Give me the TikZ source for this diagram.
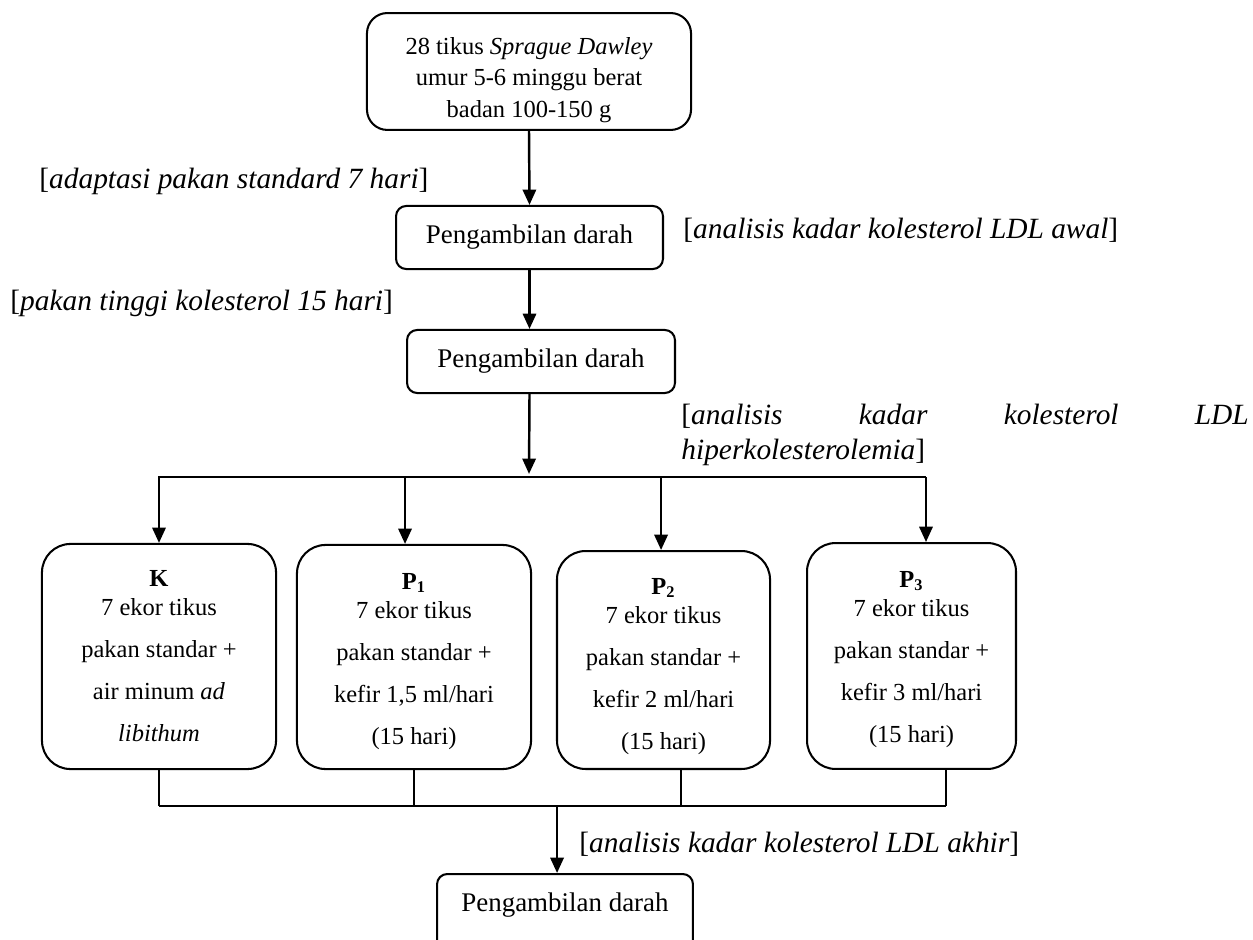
\documentclass[tikz,border=0pt]{standalone}
\usepackage{fontspec}
\setmainfont{Liberation Serif}
\usetikzlibrary{arrows.meta}
\tikzset{
  boxround/.style={draw, line width=1pt, rounded corners=10pt, align=center, inner sep=0pt},
  boxsmall/.style={draw, line width=1pt, rounded corners=5pt, align=center, inner sep=0pt,
     font=\fontsize{13.2}{15}\selectfont},
  groupbox/.style={draw, line width=1pt, rounded corners=14pt, align=center, inner sep=0pt,
     font=\fontsize{12}{20.6}\selectfont},
  lbl/.style={anchor=west, inner sep=0pt, align=left},
  biglbl/.style={lbl, font=\fontsize{14.4}{17.2}\selectfont},
  arr/.style={line width=1.2pt, -{Triangle[width=6.5pt,length=7.5pt]}},
  thinline/.style={line width=0.8pt},
  hline/.style={line width=1pt}
}
\begin{document}
\begin{tikzpicture}[x=0.49pt, y=-0.49pt, font=\fontsize{12}{14.5}\selectfont]
\useasboundingbox (0,0) rectangle (1253,940);
\fill[white] (0,0) rectangle (1253,940);
\clip (0,0) rectangle (1253,940);

% main column
\node[boxround, minimum width=158.8pt, minimum height=57.3pt, font=\fontsize{12}{15.4}\selectfont]
  (top) at (529,71.5) {\rule{0pt}{16.5pt}28 tikus \textit{Sprague Dawley}\\umur 5-6 minggu berat\\badan 100-150 g};
\node[boxsmall, minimum width=130.8pt, minimum height=30.9pt] (b2) at (529.5,237.5) {Pengambilan darah};
\node[boxsmall, minimum width=131.3pt, minimum height=30.9pt] (b3) at (541,361.5) {Pengambilan darah};

% labels
\node[biglbl] (l1) at (39,181) {[\textit{adaptasi pakan standard 7 hari}]};
\node[biglbl] (l2) at (683,230) {[\textit{analisis kadar kolesterol LDL awal}]};
\node[biglbl] (l3) at (10,303) {[\textit{pakan tinggi kolesterol 15 hari}]};
\node[biglbl] (l4) at (681,435)
  {\makebox[278pt][l]{[\textit{analisis}\hfill\textit{kadar}\hfill\textit{kolesterol}\hfill\textit{LDL}}\\\textit{hiperkolesterolemia}]};
\node[biglbl] (l5) at (579,844) {[\textit{analisis kadar kolesterol LDL akhir}]};

% groups
\node[groupbox, minimum width=114.7pt, minimum height=110.3pt] (K) at (159,656.5)
  {\textbf{K}\\[-6.4pt]7 ekor tikus\\pakan standar +\\air minum \textit{ad}\\\textit{libithum}};
\node[groupbox, minimum width=114.7pt, minimum height=109.8pt] (P1) at (414,657)
  {\rule{0pt}{12pt}\textbf{P}\textsubscript{\textbf{1}}\\[-6.4pt]7 ekor tikus\\pakan standar +\\kefir 1,5 ml/hari\\(15 hari)};
\node[groupbox, minimum width=104.4pt, minimum height=106.8pt] (P2) at (663.5,660)
  {\rule{0pt}{14pt}\textbf{P}\textsubscript{\textbf{2}}\\[-6.4pt]7 ekor tikus\\pakan standar +\\kefir 2 ml/hari\\(15 hari)};
\node[groupbox, minimum width=102.4pt, minimum height=110.7pt] (P3) at (911.5,656)
  {\rule{0pt}{11pt}\textbf{P}\textsubscript{\textbf{3}}\\[-6.4pt]7 ekor tikus\\pakan standar +\\kefir 3 ml/hari\\(15 hari)};

% final box (runs past the lower edge)
\node[boxsmall, anchor=north, minimum width=125.4pt, text height=18.6pt, text depth=24pt]
  (b4) at (565,873) {Pengambilan darah};

% connectors
\draw[arr] (top.south) -- (b2.north);
\draw[arr] (b2.south) -- (b2.south |- b3.north);
\coordinate (split) at (529,477);
\coordinate (hl) at (158,477);
\coordinate (hr) at (926,477);
\draw[arr] (b2.south |- b3.south) -- ([yshift=1.5pt]split);
\draw[hline] (hl) -- (hr);
\draw[arr] (hl -| K.north) -- (K.north);
\draw[arr] ([xshift=-4.4pt]P1.north |- hl) -- ([xshift=-4.4pt]P1.north);
\draw[arr] ([xshift=-1.2pt]P2.north |- hl) -- ([xshift=-1.2pt]P2.north);
\draw[arr] ([xshift=7.1pt]P3.north |- hl) -- ([xshift=7.1pt]P3.north);

\coordinate (bl) at (159,806);
\coordinate (br) at (946,806);
\draw[thinline] (K.south) -- (K.south |- bl);
\draw[thinline] (P1.south) -- (P1.south |- bl);
\draw[thinline] ([xshift=8.6pt]P2.south) -- ([xshift=8.6pt]P2.south |- bl);
\draw[thinline] ([xshift=16.9pt]P3.south) -- ([xshift=16.9pt]P3.south |- bl);
\draw[thinline] (bl) -- (br);
\draw[arr] ([xshift=-3.9pt]b4.north |- bl) -- ([xshift=-3.9pt]b4.north);
\end{tikzpicture}
\end{document}
